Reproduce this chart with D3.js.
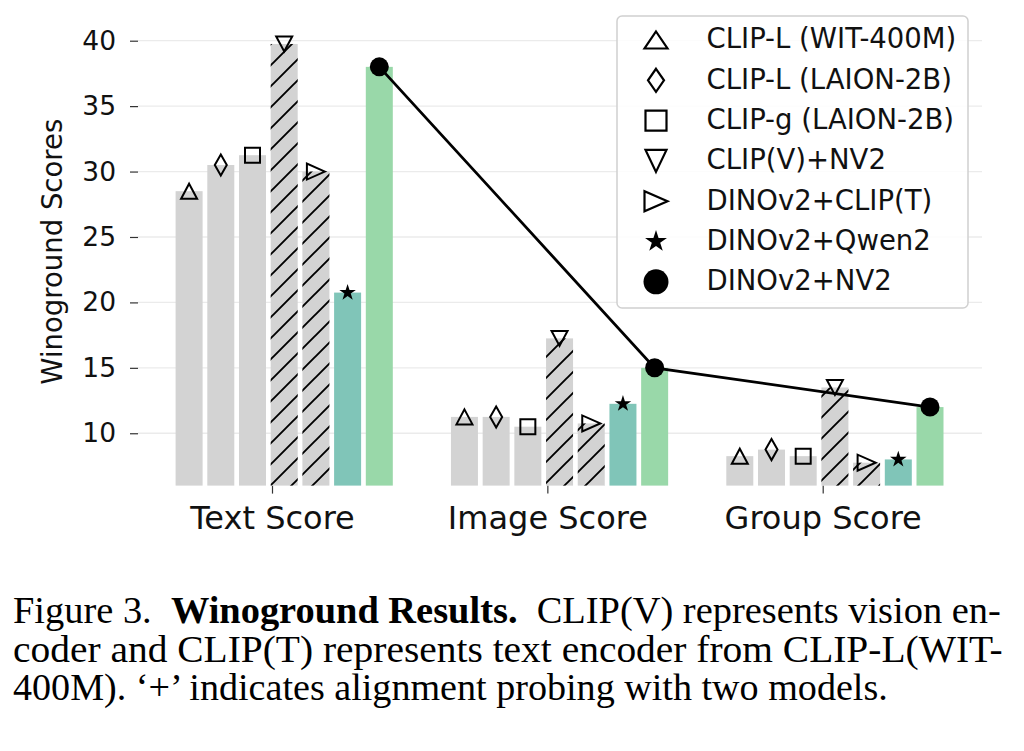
<!DOCTYPE html>
<html>
<head>
<meta charset="utf-8">
<script src="https://cdn.jsdelivr.net/npm/d3@7"></script>
<style>
  html, body { margin: 0; padding: 0; background: #fff; }
  svg { display: block; }
</style>
</head>
<body>
<svg id="chart" width="1024" height="751"></svg>
<script>
// ---- data ----
const groups = ["Text Score", "Image Score", "Group Score"];
const models = ["CLIP-L (WIT-400M)", "CLIP-L (LAION-2B)", "CLIP-g (LAION-2B)", "CLIP(V)+NV2", "DINOv2+CLIP(T)", "DINOv2+Qwen2", "DINOv2+NV2"];
const textScores  = [28.5, 30.5, 31.25, 39.75, 30.0, 20.75, 38.0];
const imageScores = [11.25, 11.25, 10.5, 17.25, 10.75, 12.25, 15.0];
const groupScores = [8.25, 8.75, 8.25, 13.5, 7.75, 8.0, 12.0];
const yTicks = [10, 15, 20, 25, 30, 35, 40];
const yLabel = "Winoground Scores";
const markerTypes = ["triUp", "diamond", "square", "triDown", "triRight", "star", "circle"];
const hatched = [false, false, false, true, true, false, false];
const barColors = ["#d3d3d3", "#d3d3d3", "#d3d3d3", "#d3d3d3", "#d3d3d3", "#80c5b8", "#99d8a9"];
const captionLines = [
  [["Figure 3.  ", "normal"], ["Winoground Results.", "bold"], ["  CLIP(V) represents vision en-", "normal"]],
  [["coder and CLIP(T) represents text encoder from CLIP-L(WIT-", "normal"]],
  [["400M). \u2018+\u2019 indicates alignment probing with two models.", "normal"]]
];

const series = [textScores, imageScores, groupScores];

// ---- layout ----
const svg = d3.select("#chart");
const plotLeft = 138, plotRight = 982;
const y = d3.scaleLinear().domain([6, 40]).range([485.6, 40.7]);
const x0 = d3.scaleLinear().domain([0, 2]).range([272, 822.7]);
const step = 31.7, gap = 4.7, off = -1.3;
const x1 = d3.scaleBand().domain(models)
  .range([-3 * step + off, 4 * step + off - gap])
  .paddingInner(gap / step).paddingOuter(0);

// hatch pattern
const defs = svg.append("defs");
const pat = defs.append("pattern").attr("id", "hatch")
  .attr("patternUnits", "userSpaceOnUse").attr("width", 21).attr("height", 21);
pat.append("path").attr("d", "M-2,2 L2,-2 M0,21 L21,0 M19,23 L23,19")
  .attr("stroke", "#000").attr("stroke-width", 1.9).attr("fill", "none");

// gridlines
svg.append("g").selectAll("line").data(yTicks).join("line")
  .attr("x1", plotLeft).attr("x2", plotRight)
  .attr("y1", d => y(d)).attr("y2", d => y(d))
  .attr("stroke", "#ebebeb").attr("stroke-width", 1.3);

// y axis (ticks + labels)
const yAxis = d3.axisLeft(y).tickValues(yTicks).tickSize(8).tickPadding(14);
const ya = svg.append("g").attr("transform", `translate(${plotLeft},0)`).call(yAxis);
ya.select(".domain").remove();
ya.selectAll(".tick line").attr("stroke", "#333").attr("stroke-width", 1.2);
ya.selectAll(".tick text").attr("font-family", "DejaVu Sans").attr("font-size", 26.5).attr("fill", "#111");

// x axis
const xAxis = d3.axisBottom(x0).tickValues([0, 1, 2]).tickFormat(i => groups[i]).tickSize(8).tickPadding(13);
const xa = svg.append("g").attr("transform", `translate(0,${y(6)})`).call(xAxis);
xa.select(".domain").remove();
xa.selectAll(".tick line").attr("stroke", "#333").attr("stroke-width", 1.2);
xa.selectAll(".tick text").attr("font-family", "DejaVu Sans").attr("font-size", 32).attr("fill", "#111");

// y label
svg.append("text").attr("transform", "translate(62,251.7) rotate(-90)")
  .attr("text-anchor", "middle").attr("font-family", "DejaVu Sans").attr("font-size", 27.5)
  .attr("fill", "#111").text(yLabel);

// bars
const barData = [];
series.forEach((vals, gi) => vals.forEach((v, mi) => barData.push({gi, mi, v})));
const bars = svg.append("g");
bars.selectAll("rect.fill").data(barData).join("rect")
  .attr("x", d => x0(d.gi) + x1(models[d.mi])).attr("width", x1.bandwidth())
  .attr("y", d => y(d.v)).attr("height", d => y(6) - y(d.v))
  .attr("fill", d => barColors[d.mi]);
bars.selectAll("rect.hatch").data(barData.filter(d => hatched[d.mi])).join("rect")
  .attr("x", d => x0(d.gi) + x1(models[d.mi])).attr("width", x1.bandwidth())
  .attr("y", d => y(d.v)).attr("height", d => y(6) - y(d.v))
  .attr("fill", "url(#hatch)");

// marker shapes
function starPath(R) {
  const r = R * 0.382; let p = "";
  for (let i = 0; i < 10; i++) {
    const a = -Math.PI / 2 + i * Math.PI / 5; const rr = i % 2 ? r : R;
    p += (i ? "L" : "M") + (rr * Math.cos(a)).toFixed(2) + "," + (rr * Math.sin(a)).toFixed(2);
  }
  return p + "Z";
}
function circlePath(r) { return `M${-r},0A${r},${r} 0 1,0 ${r},0A${r},${r} 0 1,0 ${-r},0Z`; }
function markerPath(t, s) {
  switch (t) {
    case "triUp": return `M0,${-s.h/2}L${s.w/2},${s.h/2}L${-s.w/2},${s.h/2}Z`;
    case "triDown": return `M0,${s.h/2}L${s.w/2},${-s.h/2}L${-s.w/2},${-s.h/2}Z`;
    case "triRight": return `M${s.w/2},0L${-s.w/2},${-s.h/2}L${-s.w/2},${s.h/2}Z`;
    case "diamond": return `M0,${-s.h/2}L${s.w/2},0L0,${s.h/2}L${-s.w/2},0Z`;
    case "square": return `M${-s.w/2},${-s.h/2}H${s.w/2}V${s.h/2}H${-s.w/2}Z`;
    case "star": return starPath(s.r);
    case "circle": return circlePath(s.r);
  }
}
const chartSizes = {triUp:{w:16,h:15}, diamond:{w:12,h:21}, square:{w:15,h:15}, triDown:{w:16,h:15}, triRight:{w:18,h:16}, star:{r:8.7}, circle:{r:9.5}};
const legendSizes = {triUp:{w:23,h:17}, diamond:{w:16,h:23}, square:{w:21,h:20}, triDown:{w:21,h:22}, triRight:{w:23,h:20}, star:{r:11.5}, circle:{r:12.5}};
const filled = t => t === "star" || t === "circle";

// connecting line for DINOv2+NV2
const lastIdx = models.length - 1;
const line = d3.line().x(d => x0(d.gi) + x1(models[d.mi]) + x1.bandwidth() / 2).y(d => y(d.v));
svg.append("path").datum(barData.filter(d => d.mi === lastIdx))
  .attr("d", line).attr("fill", "none").attr("stroke", "#000").attr("stroke-width", 2.8);

// markers
svg.append("g").selectAll("path").data(barData).join("path")
  .attr("transform", d => `translate(${x0(d.gi) + x1(models[d.mi]) + x1.bandwidth() / 2},${y(d.v)})`)
  .attr("d", d => markerPath(markerTypes[d.mi], chartSizes[markerTypes[d.mi]]))
  .attr("fill", d => filled(markerTypes[d.mi]) ? "#000" : "none")
  .attr("stroke", "#000").attr("stroke-width", d => filled(markerTypes[d.mi]) ? 0 : 2)
  .attr("stroke-linejoin", "miter");

// legend
const lg = svg.append("g");
lg.append("rect").attr("x", 617).attr("y", 16).attr("width", 351).attr("height", 292)
  .attr("rx", 5).attr("fill", "#fff").attr("fill-opacity", 0.85)
  .attr("stroke", "#d0d0d0").attr("stroke-width", 1.5);
const rows = lg.selectAll("g.row").data(models).join("g");
rows.append("path")
  .attr("transform", (d, i) => `translate(656,${40 + 40.3 * i})`)
  .attr("d", (d, i) => markerPath(markerTypes[i], legendSizes[markerTypes[i]]))
  .attr("fill", (d, i) => filled(markerTypes[i]) ? "#000" : "none")
  .attr("stroke", "#000").attr("stroke-width", (d, i) => filled(markerTypes[i]) ? 0 : 2.2);
rows.append("text").attr("x", 706.5).attr("y", (d, i) => 48.3 + 40.3 * i)
  .attr("font-family", "DejaVu Sans").attr("font-size", 27.5).attr("fill", "#111").text(d => d);

// caption
const capX = 13, capTargets = [988, 990, 875], capBase = [623, 661.5, 700];
const capFont = 38;
const capTexts = captionLines.map((segs, li) => {
  const t = svg.append("text").attr("font-family", "Liberation Serif, Times New Roman, serif")
    .attr("font-size", capFont).attr("fill", "#000").style("white-space", "pre");
  segs.forEach(([s, w]) => t.append("tspan").attr("font-weight", w).text(s));
  return t;
});
capTexts.forEach((t, i) => {
  const w = t.node().getComputedTextLength();
  t.attr("transform", `translate(${capX},${capBase[i]}) scale(${capTargets[i] / w},1)`);
});
</script>
</body>
</html>
